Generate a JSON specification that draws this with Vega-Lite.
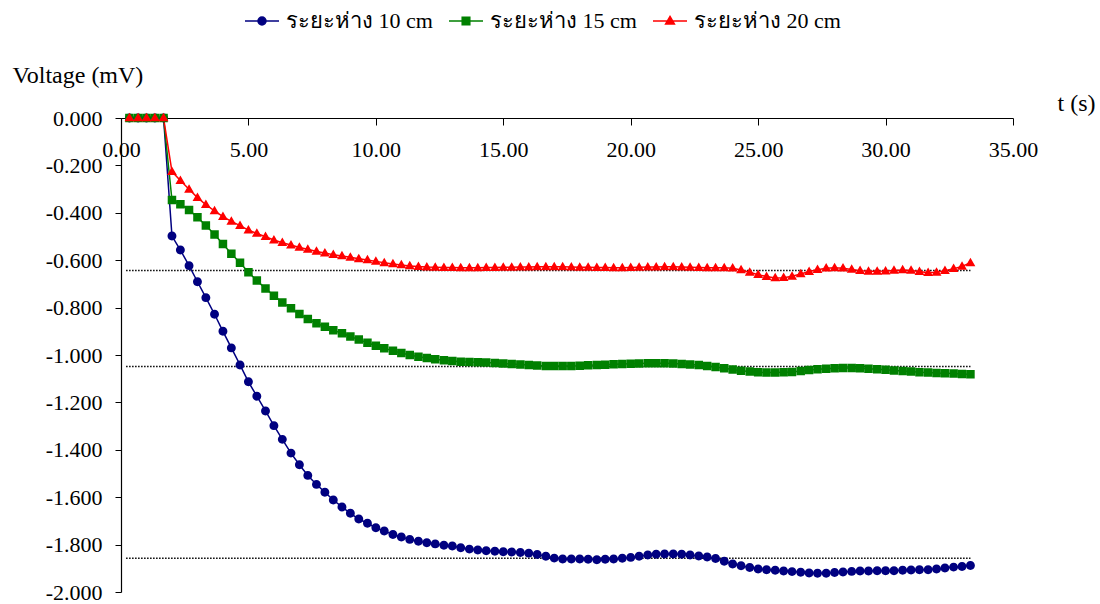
{
  "$schema": "https://vega.github.io/schema/vega-lite/v6.json",
  "autosize": {"type": "none"},
  "padding": {"left": 121, "top": 118, "right": 87, "bottom": 12},
  "width": 892,
  "height": 474,
  "background": "white",
  "config": {"view": {"stroke": null}},
  "datasets": {
    "s": [
      {"t":0.33,"d":"10","v":0},{"t":0.67,"d":"10","v":0},{"t":1,"d":"10","v":0},{"t":1.33,"d":"10","v":0},{"t":1.67,"d":"10","v":0},
      {"t":2,"d":"10","v":-0.498},{"t":2.33,"d":"10","v":-0.557},{"t":2.67,"d":"10","v":-0.623},{"t":3,"d":"10","v":-0.691},{"t":3.33,"d":"10","v":-0.758},
      {"t":3.67,"d":"10","v":-0.828},{"t":4,"d":"10","v":-0.9},{"t":4.33,"d":"10","v":-0.97},{"t":4.67,"d":"10","v":-1.042},{"t":5,"d":"10","v":-1.113},
      {"t":5.33,"d":"10","v":-1.174},{"t":5.67,"d":"10","v":-1.236},{"t":6,"d":"10","v":-1.298},{"t":6.33,"d":"10","v":-1.356},{"t":6.67,"d":"10","v":-1.414},
      {"t":7,"d":"10","v":-1.463},{"t":7.33,"d":"10","v":-1.508},{"t":7.67,"d":"10","v":-1.546},{"t":8,"d":"10","v":-1.579},{"t":8.33,"d":"10","v":-1.612},
      {"t":8.67,"d":"10","v":-1.641},{"t":9,"d":"10","v":-1.668},{"t":9.33,"d":"10","v":-1.692},{"t":9.67,"d":"10","v":-1.71},{"t":10,"d":"10","v":-1.729},
      {"t":10.33,"d":"10","v":-1.743},{"t":10.67,"d":"10","v":-1.757},{"t":11,"d":"10","v":-1.768},{"t":11.33,"d":"10","v":-1.778},{"t":11.67,"d":"10","v":-1.786},
      {"t":12,"d":"10","v":-1.792},{"t":12.33,"d":"10","v":-1.797},{"t":12.67,"d":"10","v":-1.803},{"t":13,"d":"10","v":-1.806},{"t":13.33,"d":"10","v":-1.813},
      {"t":13.67,"d":"10","v":-1.819},{"t":14,"d":"10","v":-1.823},{"t":14.33,"d":"10","v":-1.826},{"t":14.67,"d":"10","v":-1.828},{"t":15,"d":"10","v":-1.83},
      {"t":15.33,"d":"10","v":-1.831},{"t":15.67,"d":"10","v":-1.833},{"t":16,"d":"10","v":-1.836},{"t":16.33,"d":"10","v":-1.842},{"t":16.67,"d":"10","v":-1.849},
      {"t":17,"d":"10","v":-1.857},{"t":17.33,"d":"10","v":-1.861},{"t":17.67,"d":"10","v":-1.861},{"t":18,"d":"10","v":-1.861},{"t":18.33,"d":"10","v":-1.862},
      {"t":18.67,"d":"10","v":-1.864},{"t":19,"d":"10","v":-1.862},{"t":19.33,"d":"10","v":-1.861},{"t":19.67,"d":"10","v":-1.858},{"t":20,"d":"10","v":-1.854},
      {"t":20.33,"d":"10","v":-1.849},{"t":20.67,"d":"10","v":-1.844},{"t":21,"d":"10","v":-1.841},{"t":21.33,"d":"10","v":-1.84},{"t":21.67,"d":"10","v":-1.84},
      {"t":22,"d":"10","v":-1.841},{"t":22.33,"d":"10","v":-1.844},{"t":22.67,"d":"10","v":-1.848},{"t":23,"d":"10","v":-1.852},{"t":23.33,"d":"10","v":-1.859},
      {"t":23.67,"d":"10","v":-1.87},{"t":24,"d":"10","v":-1.882},{"t":24.33,"d":"10","v":-1.889},{"t":24.67,"d":"10","v":-1.897},{"t":25,"d":"10","v":-1.903},
      {"t":25.33,"d":"10","v":-1.906},{"t":25.67,"d":"10","v":-1.908},{"t":26,"d":"10","v":-1.911},{"t":26.33,"d":"10","v":-1.914},{"t":26.67,"d":"10","v":-1.917},
      {"t":27,"d":"10","v":-1.92},{"t":27.33,"d":"10","v":-1.921},{"t":27.67,"d":"10","v":-1.921},{"t":28,"d":"10","v":-1.918},{"t":28.33,"d":"10","v":-1.916},
      {"t":28.67,"d":"10","v":-1.913},{"t":29,"d":"10","v":-1.911},{"t":29.33,"d":"10","v":-1.911},{"t":29.67,"d":"10","v":-1.91},{"t":30,"d":"10","v":-1.91},
      {"t":30.33,"d":"10","v":-1.91},{"t":30.67,"d":"10","v":-1.908},{"t":31,"d":"10","v":-1.907},{"t":31.33,"d":"10","v":-1.906},{"t":31.67,"d":"10","v":-1.906},
      {"t":32,"d":"10","v":-1.903},{"t":32.33,"d":"10","v":-1.899},{"t":32.67,"d":"10","v":-1.895},{"t":33,"d":"10","v":-1.892},{"t":33.33,"d":"10","v":-1.888},

      {"t":0.33,"d":"15","v":0},{"t":0.67,"d":"15","v":0},{"t":1,"d":"15","v":0},{"t":1.33,"d":"15","v":0},{"t":1.67,"d":"15","v":0},
      {"t":2,"d":"15","v":-0.346},{"t":2.33,"d":"15","v":-0.364},{"t":2.67,"d":"15","v":-0.388},{"t":3,"d":"15","v":-0.419},{"t":3.33,"d":"15","v":-0.454},
      {"t":3.67,"d":"15","v":-0.492},{"t":4,"d":"15","v":-0.532},{"t":4.33,"d":"15","v":-0.573},{"t":4.67,"d":"15","v":-0.611},{"t":5,"d":"15","v":-0.651},
      {"t":5.33,"d":"15","v":-0.686},{"t":5.67,"d":"15","v":-0.719},{"t":6,"d":"15","v":-0.75},{"t":6.33,"d":"15","v":-0.778},{"t":6.67,"d":"15","v":-0.803},
      {"t":7,"d":"15","v":-0.827},{"t":7.33,"d":"15","v":-0.848},{"t":7.67,"d":"15","v":-0.866},{"t":8,"d":"15","v":-0.881},{"t":8.33,"d":"15","v":-0.896},
      {"t":8.67,"d":"15","v":-0.908},{"t":9,"d":"15","v":-0.922},{"t":9.33,"d":"15","v":-0.935},{"t":9.67,"d":"15","v":-0.948},{"t":10,"d":"15","v":-0.961},
      {"t":10.33,"d":"15","v":-0.972},{"t":10.67,"d":"15","v":-0.982},{"t":11,"d":"15","v":-0.992},{"t":11.33,"d":"15","v":-1.0},{"t":11.67,"d":"15","v":-1.007},
      {"t":12,"d":"15","v":-1.013},{"t":12.33,"d":"15","v":-1.018},{"t":12.67,"d":"15","v":-1.022},{"t":13,"d":"15","v":-1.025},{"t":13.33,"d":"15","v":-1.028},
      {"t":13.67,"d":"15","v":-1.03},{"t":14,"d":"15","v":-1.031},{"t":14.33,"d":"15","v":-1.032},{"t":14.67,"d":"15","v":-1.034},{"t":15,"d":"15","v":-1.036},
      {"t":15.33,"d":"15","v":-1.038},{"t":15.67,"d":"15","v":-1.04},{"t":16,"d":"15","v":-1.042},{"t":16.33,"d":"15","v":-1.044},{"t":16.67,"d":"15","v":-1.046},
      {"t":17,"d":"15","v":-1.046},{"t":17.33,"d":"15","v":-1.046},{"t":17.67,"d":"15","v":-1.046},{"t":18,"d":"15","v":-1.045},{"t":18.33,"d":"15","v":-1.043},
      {"t":18.67,"d":"15","v":-1.042},{"t":19,"d":"15","v":-1.041},{"t":19.33,"d":"15","v":-1.039},{"t":19.67,"d":"15","v":-1.038},{"t":20,"d":"15","v":-1.037},
      {"t":20.33,"d":"15","v":-1.036},{"t":20.67,"d":"15","v":-1.035},{"t":21,"d":"15","v":-1.035},{"t":21.33,"d":"15","v":-1.035},{"t":21.67,"d":"15","v":-1.036},
      {"t":22,"d":"15","v":-1.038},{"t":22.33,"d":"15","v":-1.04},{"t":22.67,"d":"15","v":-1.042},{"t":23,"d":"15","v":-1.046},{"t":23.33,"d":"15","v":-1.051},
      {"t":23.67,"d":"15","v":-1.056},{"t":24,"d":"15","v":-1.061},{"t":24.33,"d":"15","v":-1.066},{"t":24.67,"d":"15","v":-1.07},{"t":25,"d":"15","v":-1.073},
      {"t":25.33,"d":"15","v":-1.074},{"t":25.67,"d":"15","v":-1.074},{"t":26,"d":"15","v":-1.073},{"t":26.33,"d":"15","v":-1.072},{"t":26.67,"d":"15","v":-1.068},
      {"t":27,"d":"15","v":-1.063},{"t":27.33,"d":"15","v":-1.06},{"t":27.67,"d":"15","v":-1.058},{"t":28,"d":"15","v":-1.056},{"t":28.33,"d":"15","v":-1.055},
      {"t":28.67,"d":"15","v":-1.055},{"t":29,"d":"15","v":-1.056},{"t":29.33,"d":"15","v":-1.058},{"t":29.67,"d":"15","v":-1.06},{"t":30,"d":"15","v":-1.062},
      {"t":30.33,"d":"15","v":-1.065},{"t":30.67,"d":"15","v":-1.068},{"t":31,"d":"15","v":-1.07},{"t":31.33,"d":"15","v":-1.073},{"t":31.67,"d":"15","v":-1.074},
      {"t":32,"d":"15","v":-1.076},{"t":32.33,"d":"15","v":-1.077},{"t":32.67,"d":"15","v":-1.078},{"t":33,"d":"15","v":-1.08},{"t":33.33,"d":"15","v":-1.081},

      {"t":0.33,"d":"20","v":0},{"t":0.67,"d":"20","v":0},{"t":1,"d":"20","v":0},{"t":1.33,"d":"20","v":0},{"t":1.67,"d":"20","v":0},
      {"t":2,"d":"20","v":-0.226},{"t":2.33,"d":"20","v":-0.264},{"t":2.67,"d":"20","v":-0.301},{"t":3,"d":"20","v":-0.336},{"t":3.33,"d":"20","v":-0.366},
      {"t":3.67,"d":"20","v":-0.392},{"t":4,"d":"20","v":-0.416},{"t":4.33,"d":"20","v":-0.436},{"t":4.67,"d":"20","v":-0.454},{"t":5,"d":"20","v":-0.473},
      {"t":5.33,"d":"20","v":-0.487},{"t":5.67,"d":"20","v":-0.501},{"t":6,"d":"20","v":-0.515},{"t":6.33,"d":"20","v":-0.526},{"t":6.67,"d":"20","v":-0.536},
      {"t":7,"d":"20","v":-0.546},{"t":7.33,"d":"20","v":-0.554},{"t":7.67,"d":"20","v":-0.563},{"t":8,"d":"20","v":-0.57},{"t":8.33,"d":"20","v":-0.577},
      {"t":8.67,"d":"20","v":-0.582},{"t":9,"d":"20","v":-0.588},{"t":9.33,"d":"20","v":-0.594},{"t":9.67,"d":"20","v":-0.599},{"t":10,"d":"20","v":-0.605},
      {"t":10.33,"d":"20","v":-0.611},{"t":10.67,"d":"20","v":-0.616},{"t":11,"d":"20","v":-0.62},{"t":11.33,"d":"20","v":-0.624},{"t":11.67,"d":"20","v":-0.627},
      {"t":12,"d":"20","v":-0.629},{"t":12.33,"d":"20","v":-0.63},{"t":12.67,"d":"20","v":-0.631},{"t":13,"d":"20","v":-0.631},{"t":13.33,"d":"20","v":-0.632},
      {"t":13.67,"d":"20","v":-0.632},{"t":14,"d":"20","v":-0.632},{"t":14.33,"d":"20","v":-0.631},{"t":14.67,"d":"20","v":-0.631},{"t":15,"d":"20","v":-0.63},
      {"t":15.33,"d":"20","v":-0.63},{"t":15.67,"d":"20","v":-0.629},{"t":16,"d":"20","v":-0.629},{"t":16.33,"d":"20","v":-0.628},{"t":16.67,"d":"20","v":-0.628},
      {"t":17,"d":"20","v":-0.628},{"t":17.33,"d":"20","v":-0.628},{"t":17.67,"d":"20","v":-0.629},{"t":18,"d":"20","v":-0.63},{"t":18.33,"d":"20","v":-0.63},
      {"t":18.67,"d":"20","v":-0.631},{"t":19,"d":"20","v":-0.631},{"t":19.33,"d":"20","v":-0.632},{"t":19.67,"d":"20","v":-0.632},{"t":20,"d":"20","v":-0.631},
      {"t":20.33,"d":"20","v":-0.63},{"t":20.67,"d":"20","v":-0.629},{"t":21,"d":"20","v":-0.629},{"t":21.33,"d":"20","v":-0.628},{"t":21.67,"d":"20","v":-0.628},
      {"t":22,"d":"20","v":-0.629},{"t":22.33,"d":"20","v":-0.63},{"t":22.67,"d":"20","v":-0.631},{"t":23,"d":"20","v":-0.632},{"t":23.33,"d":"20","v":-0.632},
      {"t":23.67,"d":"20","v":-0.632},{"t":24,"d":"20","v":-0.634},{"t":24.33,"d":"20","v":-0.641},{"t":24.67,"d":"20","v":-0.651},{"t":25,"d":"20","v":-0.661},
      {"t":25.33,"d":"20","v":-0.669},{"t":25.67,"d":"20","v":-0.675},{"t":26,"d":"20","v":-0.674},{"t":26.33,"d":"20","v":-0.668},{"t":26.67,"d":"20","v":-0.658},
      {"t":27,"d":"20","v":-0.648},{"t":27.33,"d":"20","v":-0.64},{"t":27.67,"d":"20","v":-0.634},{"t":28,"d":"20","v":-0.632},{"t":28.33,"d":"20","v":-0.634},
      {"t":28.67,"d":"20","v":-0.639},{"t":29,"d":"20","v":-0.644},{"t":29.33,"d":"20","v":-0.647},{"t":29.67,"d":"20","v":-0.647},{"t":30,"d":"20","v":-0.646},
      {"t":30.33,"d":"20","v":-0.643},{"t":30.67,"d":"20","v":-0.641},{"t":31,"d":"20","v":-0.643},{"t":31.33,"d":"20","v":-0.648},{"t":31.67,"d":"20","v":-0.653},
      {"t":32,"d":"20","v":-0.651},{"t":32.33,"d":"20","v":-0.644},{"t":32.67,"d":"20","v":-0.636},{"t":33,"d":"20","v":-0.626},{"t":33.33,"d":"20","v":-0.611}
    ],
    "levels": [
      {"t":0.2,"g":"a","v":-0.643},{"t":33.33,"g":"a","v":-0.643},
      {"t":0.2,"g":"b","v":-1.048},{"t":33.33,"g":"b","v":-1.048},
      {"t":0.2,"g":"c","v":-1.858},{"t":33.33,"g":"c","v":-1.858}
    ]
  },
  "data": {"name": "s"},
  "encoding": {
    "x": {
      "field": "t",
      "type": "quantitative",
      "scale": {"domain": [0, 35], "nice": false, "zero": false},
      "axis": {
        "orient": "bottom",
        "offset": -474,
        "values": [0, 5, 10, 15, 20, 25, 30, 35],
        "format": ".2f",
        "grid": false,
        "domainColor": "#000",
        "domainWidth": 1.2,
        "tickColor": "#000",
        "tickSize": 7,
        "labelPadding": 14,
        "labelFont": "Liberation Serif",
        "labelFontSize": 22,
        "labelColor": "#000",
        "labelBaseline": "top",
        "labelFlush": false,
        "labelOverlap": false,
        "title": "t (s)",
        "titleFont": "Liberation Serif",
        "titleFontSize": 24,
        "titleFontWeight": "normal",
        "titleColor": "#000",
        "titleX": 936,
        "titleY": -15,
        "titleAlign": "left",
        "titleBaseline": "middle",
        "titleAngle": 0
      }
    },
    "y": {
      "field": "v",
      "type": "quantitative",
      "scale": {"domain": [-2, 0], "nice": false, "zero": false},
      "axis": {
        "values": [-2, -1.8, -1.6, -1.4, -1.2, -1, -0.8, -0.6, -0.4, -0.2, 0],
        "format": ".3f",
        "labelExpr": "replace(datum.label, '−', '-')",
        "grid": false,
        "domainColor": "#000",
        "domainWidth": 1.2,
        "tickColor": "#000",
        "tickSize": 6,
        "labelPadding": 13,
        "labelFont": "Liberation Serif",
        "labelFontSize": 22,
        "labelColor": "#000",
        "labelFlush": false,
        "labelOverlap": false,
        "title": "Voltage (mV)",
        "titleFont": "Liberation Serif",
        "titleFontSize": 24,
        "titleFontWeight": "normal",
        "titleColor": "#000",
        "titleAngle": 0,
        "titleX": -109,
        "titleY": -43,
        "titleAlign": "left",
        "titleBaseline": "middle"
      }
    }
  },
  "layer": [
    {
      "data": {"name": "levels"},
      "mark": {"type": "line", "color": "#000", "strokeWidth": 1.5, "strokeDash": [1.5, 1.5]},
      "encoding": {"detail": {"field": "g", "type": "nominal"}}
    },
    {
      "mark": {"type": "line", "strokeWidth": 1.5},
      "encoding": {
        "stroke": {
          "field": "d",
          "type": "nominal",
          "scale": {"domain": ["10", "15", "20"], "range": ["#000080", "#008000", "#ff0000"]}
        }
      }
    },
    {
      "mark": {"type": "point", "filled": true, "opacity": 1, "size": 80, "strokeWidth": 0},
      "encoding": {
        "stroke": {
          "field": "d",
          "type": "nominal",
          "scale": {"domain": ["10", "15", "20"], "range": ["#000080", "#008000", "#ff0000"]}
        },
        "color": {
          "field": "d",
          "type": "nominal",
          "scale": {"domain": ["10", "15", "20"], "range": ["#000080", "#008000", "#ff0000"]},
          "legend": {
            "orient": "none",
            "legendX": 130,
            "legendY": -108,
            "direction": "horizontal",
            "title": null,
            "padding": 0,
            "labelExpr": "'ระยะห่าง ' + datum.label + ' cm'",
            "labelFont": "Liberation Serif",
            "labelFontSize": 22,
            "labelColor": "#000",
            "symbolSize": 64,
            "labelOffset": 13,
            "columnPadding": 13,
            "symbolStrokeWidth": 1.5,
            "encode": {"symbols": {"strokeWidth": {"value": 1.5}}}
          }
        },
        "shape": {
          "field": "d",
          "type": "nominal",
          "scale": {
            "domain": ["10", "15", "20"],
            "range": [
              "M-4.25,0H4.25M1,0A1,1,0,1,1,-1,0A1,1,0,1,1,1,0Z",
              "M-4.25,0H4.25M-0.95,-0.95H0.95V0.95H-0.95Z",
              "M-4.25,0H4.25M0,-1.15L1.1,0.75H-1.1Z"
            ]
          }
        }
      }
    }
  ]
}
